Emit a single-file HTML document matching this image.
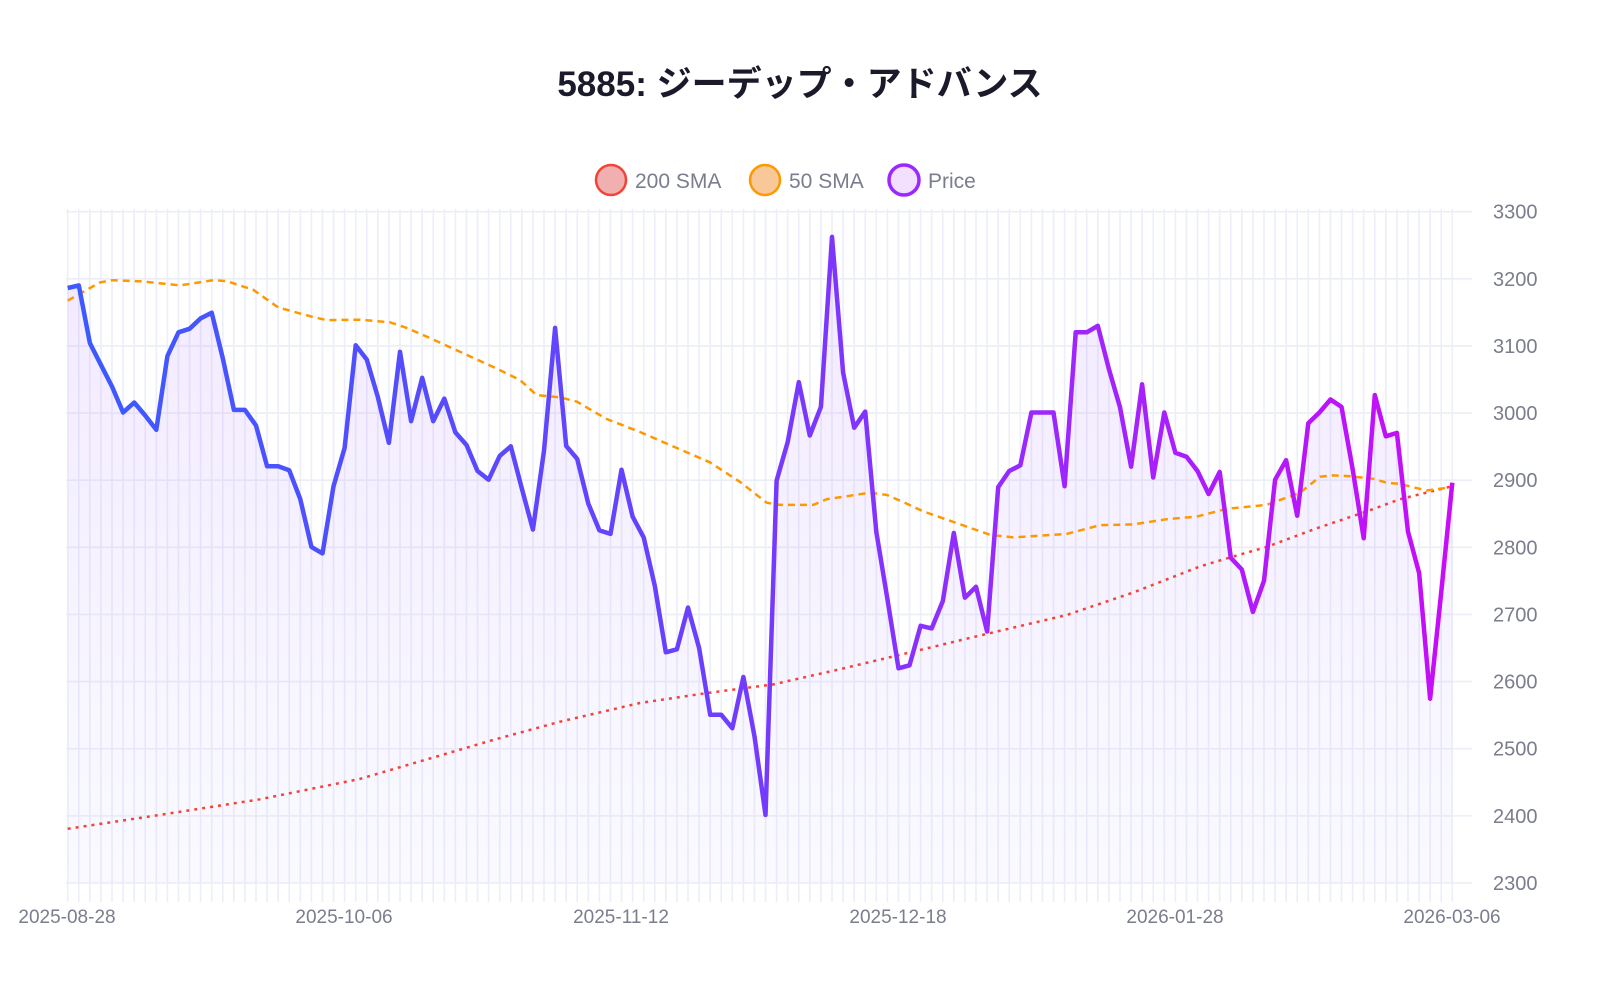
<!DOCTYPE html>
<html><head><meta charset="utf-8">
<style>
html,body{margin:0;padding:0;background:#fff;}
body{width:1600px;height:1000px;overflow:hidden;}
svg text{font-family:"Liberation Sans","Noto Sans CJK JP",sans-serif;}
</style></head>
<body>
<svg id="c" width="1600" height="1000" xmlns="http://www.w3.org/2000/svg">
<defs>
<linearGradient id="pl" gradientUnits="userSpaceOnUse" x1="67" y1="0" x2="1453" y2="0">
<stop offset="0" stop-color="#3b5bff"/>
<stop offset="0.45" stop-color="#6a40ff"/>
<stop offset="0.7" stop-color="#9a28ff"/>
<stop offset="1" stop-color="#c80cf8"/>
</linearGradient>
<linearGradient id="fl" x1="0" y1="0" x2="0" y2="1">
<stop offset="0" stop-color="#b070ff" stop-opacity="0.16"/>
<stop offset="1" stop-color="#b8b8ff" stop-opacity="0.08"/>
</linearGradient>
</defs>
<g id="grid"></g>
<path id="area" fill="url(#fl)"/>
<polyline id="s200" fill="none" stroke="#f44336" stroke-width="2.5" stroke-dasharray="3,5"/>
<polyline id="s50" fill="none" stroke="#ff9800" stroke-width="2.5" stroke-dasharray="7,5"/>
<polyline id="price" fill="none" stroke="url(#pl)" stroke-width="4.5" stroke-linejoin="round"/>
<text x="800" y="96" text-anchor="middle" font-size="35" font-weight="bold" fill="#1a1a2a">5885: ジーデップ・アドバンス</text>
<circle cx="611" cy="180" r="15" fill="#f0b0b0" stroke="#f44336" stroke-width="2.5"/>
<text x="635" y="188" font-size="21" fill="#7a7d8c">200 SMA</text>
<circle cx="765" cy="180" r="15" fill="#f8c898" stroke="#ff9800" stroke-width="2.5"/>
<text x="789" y="188" font-size="21" fill="#7a7d8c">50 SMA</text>
<circle cx="904" cy="180" r="15" fill="#f3e0ff" stroke="#9a28ff" stroke-width="3.5"/>
<text x="928" y="188" font-size="21" fill="#7a7d8c">Price</text>
<g id="labels" font-size="20" fill="#7a7d8c"></g>
</svg>
<script>
var NS="http://www.w3.org/2000/svg";
function Y(v){return 211.7+(3300-v)*0.6713;}
var x0=67.7,dx=(1452.3-67.7)/125;
var g=document.getElementById('grid'),lab=document.getElementById('labels');
function el(n,a,p){var e=document.createElementNS(NS,n);for(var k in a)e.setAttribute(k,a[k]);p.appendChild(e);return e;}
for(var i=0;i<126;i++){var x=x0+i*dx;el('line',{x1:x,y1:209,x2:x,y2:902,stroke:'#eceef8','stroke-width':1.6},g);}
for(var v=2300;v<=3300;v+=100){var y=Y(v);el('line',{x1:66,y1:y,x2:1472,y2:y,stroke:'#eceef6','stroke-width':1.6},g);
var t=el('text',{x:1493,y:y+7},lab);t.textContent=v;}
var dates=['2025-08-28','2025-10-06','2025-11-12','2025-12-18','2026-01-28','2026-03-06'];
for(var k=0;k<6;k++){var t=el('text',{x:67+k*(1452-67)/5,y:923,'text-anchor':'middle','font-size':19},lab);t.textContent=dates[k];}
function zy(v){return 200+v/2.306;}
var p1=[203,197,330,380,430,490,467,497,530,360,305,297,273,260,365,484,484,520,614,614,623,690,800,815,660,572,335,368,455,560,350,510,410,510,458,536,565,625,645,590,568,665,760,578,295];
var p2=[567,597,700,762,770,622,730,778,890,1043,1036,940,1033,1187,1187,1218,1100,1237,1418,647,558,420,543,477,85,398,525,488,765,920,1080,1073,982,988,925,768,917,892,995,662];
var p3=[625,612,490,490,490,660,305,305,290,390,478,615,425,640,490,583,592,625,678,627,825,852,950,878,645,600,728,515,490,460,477,620,780,450,545,537,765,860,1150,905,652];
var all=p1.concat(p2).concat(p3);
var pts=[];for(var i=0;i<all.length;i++){pts.push((x0+i*dx).toFixed(1)+','+zy(all[i]).toFixed(1));}
document.getElementById('price').setAttribute('points',pts.join(' '));
var last=x0+(all.length-1)*dx;
document.getElementById('area').setAttribute('d','M'+pts.join(' L')+' L'+last+','+Y(2300)+' L'+x0+','+Y(2300)+' Z');
function conv(arr,ox){var r=[];for(var i=0;i<arr.length;i+=2){r.push((ox+arr[i]/3).toFixed(1)+','+zy(arr[i+1]).toFixed(1));}return r;}
var s50=conv([23,232,120,190,157,185,250,188,360,197,460,185,500,187,580,207,655,248,760,270,800,277,900,276,990,282,1040,295,1100,315,1200,350,1300,385,1380,415,1430,450,1500,455],60)
.concat(conv([110,465,200,505,300,535,450,585,510,605,600,650,680,698,720,703,820,703,860,690,990,675,1040,680,1100,700,1150,718,1250,745,1350,772,1420,778],540))
.concat(conv([200,770,300,750,400,748,500,736,590,730,680,712,800,703,900,675,960,638,1000,635,1050,637,1120,643,1160,652,1200,655,1280,670,1357,662],1000));
document.getElementById('s50').setAttribute('points',s50.join(' '));
var s200=conv([23,1450,300,1418,600,1382,900,1335,1100,1290,1300,1245,1500,1203],60)
.concat(conv([300,1160,500,1137,700,1117,900,1082,1100,1045,1300,1008],540))
.concat(conv([200,957,400,905,600,845,700,822,800,800,950,757,1100,718,1200,690,1357,660],1000));
document.getElementById('s200').setAttribute('points',s200.join(' '));
</script>
</body></html>
